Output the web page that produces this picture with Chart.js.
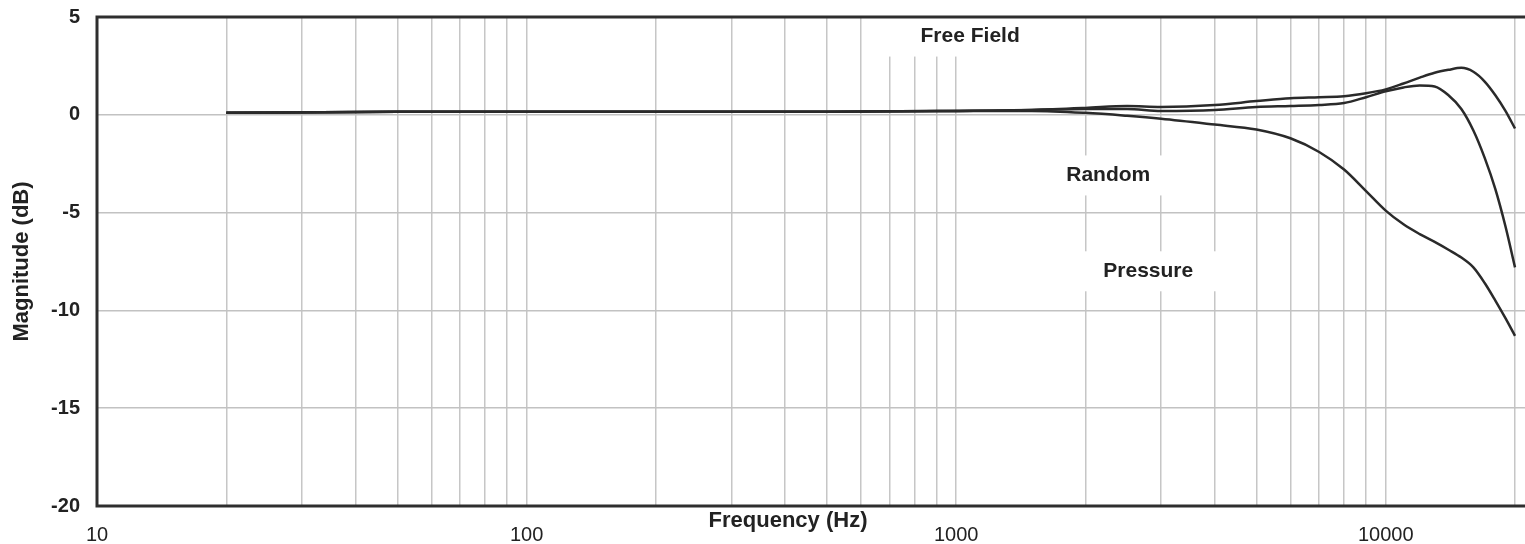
<!DOCTYPE html>
<html>
<head>
<meta charset="utf-8">
<script src="https://cdn.jsdelivr.net/npm/chart.js@4.4.1/dist/chart.umd.min.js"></script>
<style>
  html, body { margin: 0; padding: 0; background: #fff; }
  #wrap { width: 1525px; height: 544px; }
</style>
</head>
<body>
<div id="wrap"><canvas id="chart" width="1525" height="544"></canvas></div>
<script>
// frequencies (Hz) and magnitude (dB)
const freqs = [20, 50, 100, 200, 500, 1000, 1500, 2000, 2500, 3000, 4000, 5000, 6000, 7000, 8000, 9000, 10000, 11000, 12000, 13000, 14000, 15000, 16000, 17000, 18000, 19000, 20000];
const freeField = [0.1, 0.15, 0.15, 0.15, 0.15, 0.2, 0.25, 0.35, 0.45, 0.4, 0.5, 0.7, 0.85, 0.9, 0.95, 1.1, 1.3, 1.6, 1.9, 2.15, 2.3, 2.4, 2.2, 1.7, 1.0, 0.2, -0.7];
const random = [0.1, 0.15, 0.15, 0.15, 0.15, 0.2, 0.25, 0.3, 0.3, 0.2, 0.25, 0.4, 0.45, 0.5, 0.6, 0.9, 1.2, 1.4, 1.5, 1.45, 1.0, 0.3, -0.8, -2.2, -3.8, -5.7, -7.8];
const pressure = [0.1, 0.15, 0.15, 0.15, 0.15, 0.2, 0.2, 0.1, -0.05, -0.2, -0.5, -0.75, -1.2, -1.9, -2.8, -3.9, -4.9, -5.6, -6.1, -6.5, -6.9, -7.3, -7.8, -8.6, -9.5, -10.4, -11.3];

// axis ticks
const gridFreqs = [10, 20, 30, 40, 50, 60, 70, 80, 90, 100, 200, 300, 400, 500, 600, 700, 800, 900,
  1000, 2000, 3000, 4000, 5000, 6000, 7000, 8000, 9000, 10000, 20000];
const freqLabels = [10, 100, 1000, 10000];
const dbTicks = [5, 0, -5, -10, -15, -20];

// curve names, anchored in data units (Hz, dB)
const notes = [
  { text: 'Free Field', x: 1078, y: 4.0 },
  { text: 'Random', x: 2260, y: -3.1 },
  { text: 'Pressure', x: 2800, y: -8.0 }
];

const FONT = '"Liberation Sans", Arial, sans-serif';
const INK = '#222';

const pts = vals => freqs.map((f, i) => ({ x: f, y: vals[i] }));

const lineStyle = {
  borderColor: '#2a2a2a',
  borderWidth: 2.5,
  pointRadius: 0,
  fill: false,
  tension: 0.4,
  cubicInterpolationMode: 'monotone'
};

const noPad = s => { s.paddingLeft = 0; s.paddingRight = 0; s.paddingTop = 0; s.paddingBottom = 0; };

const decor = {
  id: 'decor',
  beforeDatasetsDraw(chart) {
    const { ctx, scales: { x, y } } = chart;
    ctx.save();
    ctx.font = 'bold 21px ' + FONT;
    ctx.textAlign = 'center';
    ctx.textBaseline = 'middle';
    notes.forEach(n => {
      const cx = x.getPixelForValue(n.x);
      const cy = y.getPixelForValue(n.y);
      const w = ctx.measureText(n.text).width;
      ctx.fillStyle = '#fff';
      ctx.fillRect(cx - w / 2 - 36, cy - 20, w + 72, 40);
      ctx.fillStyle = INK;
      ctx.fillText(n.text, cx, cy);
    });
    ctx.restore();
  },
  afterDraw(chart) {
    const { ctx, chartArea: a } = chart;
    ctx.save();
    ctx.strokeStyle = '#2e2e2e';
    ctx.lineWidth = 3;
    ctx.beginPath();
    ctx.moveTo(a.right, a.top);
    ctx.lineTo(a.left, a.top);
    ctx.lineTo(a.left, a.bottom);
    ctx.lineTo(a.right, a.bottom);
    ctx.stroke();

    ctx.fillStyle = INK;
    ctx.font = 'bold 22px ' + FONT;
    ctx.textAlign = 'center';
    ctx.textBaseline = 'middle';
    ctx.fillText('Frequency (Hz)', 788, 521);
    ctx.translate(22, (a.top + a.bottom) / 2);
    ctx.rotate(-Math.PI / 2);
    ctx.fillText('Magnitude (dB)', 0, 0);
    ctx.restore();
  }
};

new Chart(document.getElementById('chart'), {
  type: 'line',
  data: {
    datasets: [
      { label: 'Free Field', data: pts(freeField), ...lineStyle },
      { label: 'Random', data: pts(random), ...lineStyle },
      { label: 'Pressure', data: pts(pressure), ...lineStyle }
    ]
  },
  options: {
    responsive: false,
    animation: false,
    layout: { padding: { top: 17, right: 0, left: 0, bottom: 0 } },
    plugins: { legend: { display: false }, tooltip: { enabled: false } },
    scales: {
      x: {
        type: 'logarithmic',
        min: 10,
        max: 21100,
        afterBuildTicks: s => { s.ticks = gridFreqs.map(v => ({ value: v })); },
        afterFit: s => { s.height = 38; noPad(s); },
        border: { display: false },
        grid: { color: '#c6c6c6', lineWidth: 1.5, drawTicks: false },
        ticks: {
          autoSkip: false,
          maxRotation: 0,
          padding: 17,
          color: INK,
          font: { family: FONT, size: 20 },
          callback: v => freqLabels.includes(v) ? String(v) : ''
        }
      },
      y: {
        min: -20,
        max: 5,
        afterBuildTicks: s => { s.ticks = dbTicks.map(v => ({ value: v })); },
        afterFit: s => { s.width = 97; noPad(s); },
        border: { display: false },
        grid: { color: '#c2c2c2', lineWidth: 1.5, drawTicks: false },
        ticks: {
          padding: 17,
          color: INK,
          font: { family: FONT, size: 20, weight: 'bold' }
        }
      }
    }
  },
  plugins: [decor]
});
</script>
</body>
</html>
